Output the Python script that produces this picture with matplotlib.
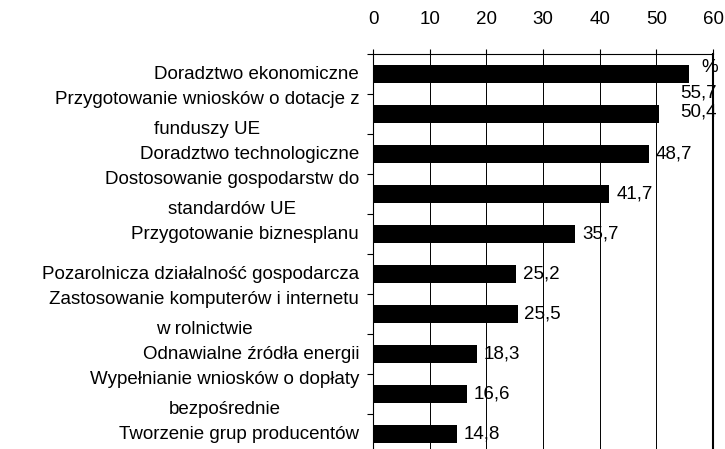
import matplotlib.pyplot as plt

plt.rcParams["font.family"] = ["Liberation Sans", "DejaVu Sans"]
plt.rcParams["font.size"] = 13.5

kategorie = [
    "Doradztwo ekonomiczne",
    "Przygotowanie wniosków o dotacje z\nfunduszy UE",
    "Doradztwo technologiczne",
    "Dostosowanie gospodarstw do\nstandardów UE",
    "Przygotowanie biznesplanu",
    "Pozarolnicza działalność gospodarcza",
    "Zastosowanie komputerów i internetu\nw rolnictwie",
    "Odnawialne źródła energii",
    "Wypełnianie wniosków o dopłaty\nbezpośrednie",
    "Tworzenie grup producentów",
]
wartosci = [55.7, 50.4, 48.7, 41.7, 35.7, 25.2, 25.5, 18.3, 16.6, 14.8]
ticki_x = [0, 10, 20, 30, 40, 50, 60]


def etykieta(v):
    return f"{v:.1f}".replace(".", ",")


fig = plt.figure(figsize=(7.25, 4.49), dpi=100)
ax = fig.add_axes([0.5145, 0.0, 0.469, 0.8797])

pozycje = list(range(len(kategorie)))
ax.barh(pozycje, wartosci, height=0.43, color="black", zorder=3)

ax.set_xlim(0, 60)
ax.set_ylim(9.375, -0.5)

ax.xaxis.tick_top()
ax.set_xticks(ticki_x)
ax.tick_params(axis="x", direction="out", length=3.5, width=0.8, pad=15, labelsize=13.5)
ax.grid(axis="x", color="black", linewidth=0.7, zorder=1)

ax.set_yticks(pozycje)
ax.set_yticklabels(kategorie, linespacing=2.0, multialignment="center", va="center")
ax.tick_params(axis="y", which="major", length=0, pad=10)
ax.set_yticks([p - 0.5 for p in pozycje], minor=True)
ax.tick_params(axis="y", which="minor", direction="out", length=4, width=0.8)

ax.spines["bottom"].set_visible(False)
ax.spines["left"].set_linewidth(0.8)
ax.spines["top"].set_linewidth(0.8)
ax.spines["right"].set_linewidth(1.5)

for i, v in enumerate(wartosci):
    if i == 0:
        ax.text(60.7, i + 0.47, etykieta(v), ha="right", va="center")
    elif i == 1:
        ax.text(60.7, i - 0.05, etykieta(v), ha="right", va="center")
    else:
        ax.text(v + 1.2, i, etykieta(v), ha="left", va="center")

ax.text(59.4, -0.16, "%", ha="center", va="center")

fig.savefig("out.png", dpi=100)
